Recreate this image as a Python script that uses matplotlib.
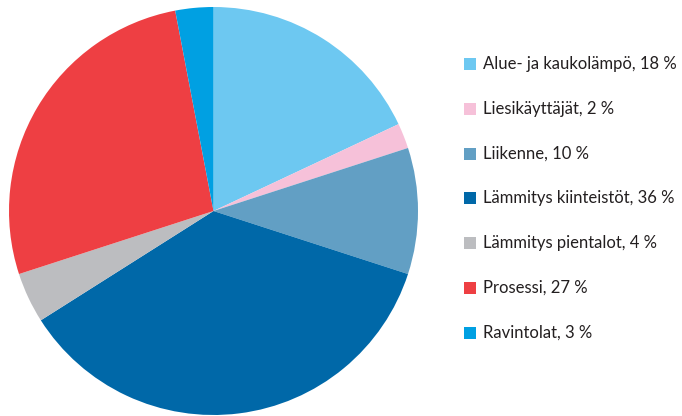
import matplotlib
matplotlib.use("Agg")
import matplotlib.pyplot as plt
from matplotlib.patches import Rectangle

labels = ["Alue- ja kaukolämpö", "Liesikäyttäjät", "Liikenne", "Lämmitys kiinteistöt",
          "Lämmitys pientalot", "Prosessi", "Ravintolat"]
values = [18, 2, 10, 36, 4, 27, 3]
colors = ["#6DC8F1", "#F6C1D9", "#629FC4", "#0068A8", "#BCBDC0", "#EE3F43", "#00A0E2"]

W, H = 682, 416
fig = plt.figure(figsize=(W / 100, H / 100), dpi=100)

# pie area in pixels: left 9, right 418, top 7, bottom 415
ax = fig.add_axes([9 / W, 1 - 415 / H, 409 / W, 408 / H])
ax.pie(values, colors=colors, startangle=90, counterclock=False, radius=1,
       wedgeprops=dict(linewidth=0))
ax.set_xlim(-1, 1)
ax.set_ylim(-1, 1)
ax.set_aspect("auto")
ax.axis("off")

# legend drawn by hand
y0, dy = 64, 44.8
for i, (lab, v, c) in enumerate(zip(labels, values, colors)):
    y = y0 + i * dy
    fig.add_artist(Rectangle((464 / W, 1 - (y + 6) / H), 12 / W, 12 / H,
                             transform=fig.transFigure, color=c, lw=0))
    fig.text(483 / W, 1 - y / H, f"{lab}, {v} %", fontsize=12, family="Lato",
             color="#231F20", va="center", ha="left")

fig.savefig("out.png", dpi=100)
